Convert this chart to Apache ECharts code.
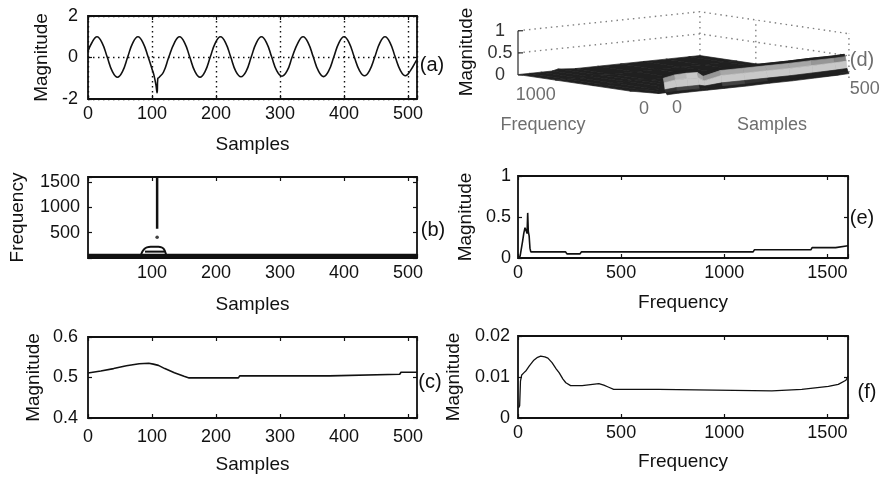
<!DOCTYPE html>
<html>
<head>
<meta charset="utf-8">
<title>Disturbance analysis</title>
<script src="https://cdn.jsdelivr.net/npm/echarts@6/dist/echarts.min.js"></script>
<style>
html, body { margin: 0; padding: 0; background: #ffffff; }
#chart { width: 886px; height: 478px; }
</style>
</head>
<body>
<div id="chart"></div>
<script>
// ---------- (a) disturbed waveform ----------
const aSamples = [0, 6, 14, 22, 30, 38, 46, 54, 62, 70, 78, 86, 94, 100, 103, 106, 108, 109, 111, 118,
  126, 135, 143, 151, 159, 167, 175, 183, 191, 199, 207, 215, 223, 231, 239, 247, 255, 263, 271, 279,
  287, 295, 303, 311, 319, 328, 336, 344, 352, 360, 368, 376, 384, 392, 400, 408, 416, 424, 432, 440,
  448, 456, 464, 472, 480, 488, 496, 504, 512, 514];
const aValues = [0.30, 0.71, 1.00, 0.71, 0.02, -0.67, -0.95, -0.67, 0.02, 0.71, 1.00, 0.71, 0.02, -0.55, -0.85, -1.30, -1.70, -1.02, -0.96, -0.70,
  0.00, 0.71, 1.00, 0.71, 0.02, -0.67, -0.95, -0.67, 0.02, 0.71, 1.00, 0.71, 0.02, -0.67, -0.93, -0.67, 0.02, 0.71, 1.00, 0.71,
  0.02, -0.65, -0.90, -0.65, 0.02, 0.71, 1.00, 0.71, 0.02, -0.65, -0.92, -0.65, 0.02, 0.71, 1.00, 0.71, 0.02, -0.62, -0.88, -0.62,
  0.02, 0.71, 1.00, 0.71, 0.02, -0.62, -0.88, -0.62, -0.20, -0.10];

// ---------- (b) dominant frequency track ----------
const bTrackSamples = [1, 514];
const bTrackFreq = [40, 40];
const bArchSamples = [83, 85, 88, 92, 98, 110, 115, 118, 120, 122];
const bArchFreq = [70, 130, 180, 210, 222, 222, 210, 185, 140, 70];
const bInnerSamples = [89, 120];
const bInnerFreq = [126, 126];
const bSpikeSamples = [108, 108];
const bSpikeFreq = [580, 1600];
const bDotSamples = [108];
const bDotFreq = [410];

// ---------- (c) magnitude at the fundamental ----------
const cSamples = [0, 20, 40, 60, 80, 95, 102, 110, 120, 135, 150, 158, 235, 237, 377, 379, 487, 489, 514];
const cValues = [0.511, 0.516, 0.522, 0.529, 0.534, 0.535, 0.533, 0.530, 0.522, 0.512, 0.503, 0.499, 0.499, 0.504, 0.504, 0.508, 0.508, 0.513, 0.513];

// ---------- (d) time-frequency magnitude surface ----------
const surfSamples = [0, 32, 64, 96, 112, 160, 224, 288, 352, 416, 480, 512];
const surfFreqs = [0, 10, 20, 30, 40, 50, 60, 75, 100, 400, 800, 1200, 1600];
const surfMag = [
  /*    0 Hz */ [0.05, 0.06, 0.06, 0.06, 0.06, 0.06, 0.06, 0.07, 0.07, 0.08, 0.09, 0.10],
  /*   10 Hz */ [0.09, 0.10, 0.10, 0.10, 0.10, 0.10, 0.10, 0.11, 0.11, 0.12, 0.13, 0.14],
  /*   20 Hz */ [0.16, 0.18, 0.18, 0.18, 0.15, 0.18, 0.18, 0.18, 0.18, 0.19, 0.20, 0.21],
  /*   30 Hz */ [0.31, 0.35, 0.35, 0.34, 0.26, 0.34, 0.34, 0.34, 0.34, 0.35, 0.36, 0.37],
  /*   40 Hz */ [0.41, 0.46, 0.47, 0.46, 0.36, 0.45, 0.45, 0.45, 0.45, 0.46, 0.46, 0.47],
  /*   50 Hz */ [0.47, 0.52, 0.53, 0.53, 0.42, 0.50, 0.50, 0.50, 0.50, 0.51, 0.51, 0.52],
  /*   60 Hz */ [0.42, 0.47, 0.48, 0.47, 0.38, 0.45, 0.45, 0.45, 0.45, 0.46, 0.46, 0.47],
  /*   75 Hz */ [0.22, 0.25, 0.25, 0.25, 0.22, 0.24, 0.24, 0.24, 0.24, 0.25, 0.25, 0.25],
  /*  100 Hz */ [0.05, 0.05, 0.05, 0.06, 0.09, 0.05, 0.05, 0.05, 0.05, 0.05, 0.05, 0.05],
  /*  400 Hz */ [0.01, 0.01, 0.01, 0.02, 0.06, 0.01, 0.01, 0.01, 0.01, 0.01, 0.01, 0.01],
  /*  800 Hz */ [0.01, 0.01, 0.01, 0.02, 0.05, 0.01, 0.01, 0.01, 0.01, 0.01, 0.01, 0.01],
  /* 1200 Hz */ [0.01, 0.01, 0.01, 0.01, 0.05, 0.01, 0.01, 0.01, 0.01, 0.01, 0.01, 0.01],
  /* 1600 Hz */ [0.01, 0.01, 0.01, 0.01, 0.04, 0.01, 0.01, 0.01, 0.01, 0.01, 0.01, 0.01]
];
const dMagTicks = [0, 0.5, 1];
const dMagTickLabels = ['0', '0.5', '1'];
const dFreqTicks = [0, 1000];
const dSampleTicks = [0, 500];
const dGridFreqs = [1000, 0];      // vertical guide lines on the back wall
const dGridMags = [0.5, 1];         // horizontal guide lines on both back walls

// ---------- (e) spectrum of the fundamental region ----------
const eFreq = [0, 10, 22, 28, 34, 40, 44, 47, 50, 54, 58, 62, 230, 238, 300, 308, 1140, 1146, 1420, 1426, 1540, 1546, 1600];
const eMag = [0.01, 0.02, 0.20, 0.30, 0.37, 0.33, 0.30, 0.55, 0.32, 0.27, 0.12, 0.075, 0.075, 0.05, 0.05, 0.075, 0.075, 0.10, 0.10, 0.127, 0.127, 0.15, 0.15];

// ---------- (f) mean spectrum ----------
const fFreq = [3, 8, 12, 18, 28, 40, 55, 75, 95, 110, 130, 145, 165, 185, 200, 218, 232, 255, 311, 320,
  392, 416, 440, 464, 682, 690, 1231, 1240, 1376, 1384, 1505, 1553, 1590, 1600];
const fMag = [0.0025, 0.003, 0.009, 0.0105, 0.011, 0.0116, 0.0127, 0.014, 0.0148, 0.0151, 0.0149, 0.0146, 0.0135, 0.012, 0.011, 0.0095, 0.0086, 0.0079, 0.0079, 0.0083,
  0.0084, 0.0080, 0.0075, 0.0070, 0.0070, 0.0066, 0.0066, 0.0070, 0.0070, 0.0074, 0.0077, 0.0082, 0.0092, 0.0102];

// ---------- styling helpers ----------
const FONT = '"Liberation Sans", Arial, Helvetica, sans-serif';
const INK = '#111111';
const DIM = '#6e6e6e';
const pairs = (xs, ys) => xs.map((x, i) => [x, ys[i]]);

const grids = [], xAxes = [], yAxes = [], series = [];

// plain numbers (no thousands separators); values listed in `hide` get no label
function tickFormatter(hide) {
  return function (v) {
    const r = Math.round(v * 1e6) / 1e6;
    return hide.indexOf(r) >= 0 ? '' : String(r);
  };
}

function panel(rect, xs, ys) {
  const gi = grids.length;
  grids.push({ left: rect[0], top: rect[1], width: rect[2], height: rect[3], show: true,
    borderColor: INK, borderWidth: 1.8, backgroundColor: 'transparent' });
  const tick = { show: true, inside: true, length: 4, lineStyle: { color: INK, width: 1.2 } };
  const dotted = { show: true, lineStyle: { color: INK, width: 1.4, type: [1.5, 3.5] } };
  const nameStyle = { color: INK, fontFamily: FONT, fontSize: 19 };
  // every axis sits on its own frame edge (never on the other axis' zero)
  const common = (a) => ({ gridIndex: gi, type: 'value', min: a.min, max: a.max, interval: a.interval,
    axisLine: { show: false, onZero: false } });

  const xi = xAxes.length;
  xAxes.push(Object.assign(common(xs), {
    position: 'bottom', axisTick: tick,
    axisLabel: { color: INK, fontFamily: FONT, fontSize: 18, margin: xs.margin, showMinLabel: true, showMaxLabel: true,
      formatter: tickFormatter(xs.hide) },
    splitLine: xs.grid ? dotted : { show: false },
    name: xs.name, nameLocation: 'middle', nameGap: xs.nameGap, nameTextStyle: nameStyle
  }));
  xAxes.push(Object.assign(common(xs), { position: 'top', axisTick: tick, axisLabel: { show: false }, splitLine: { show: false } }));

  const yi = yAxes.length;
  yAxes.push(Object.assign(common(ys), {
    position: 'left', axisTick: tick,
    axisLabel: { color: INK, fontFamily: FONT, fontSize: 18, margin: ys.margin, showMinLabel: true, showMaxLabel: true,
      formatter: tickFormatter(ys.hide) },
    splitLine: ys.grid ? dotted : { show: false },
    name: ys.name, nameLocation: 'middle', nameGap: ys.nameGap, nameTextStyle: nameStyle
  }));
  yAxes.push(Object.assign(common(ys), { position: 'right', axisTick: tick, axisLabel: { show: false }, splitLine: { show: false } }));
  return { x: xi, y: yi };
}

function line(ax, data, width, smooth) {
  series.push({ type: 'line', xAxisIndex: ax.x, yAxisIndex: ax.y, data: data, showSymbol: false, symbol: 'none',
    smooth: smooth || false, lineStyle: { color: INK, width: width }, z: 3, animation: false });
}

// ---------- panels ----------
const pa = panel([88, 16, 329, 83],
  { min: 0, max: 514, interval: 100, margin: 6, hide: [514], grid: true, name: 'Samples', nameGap: 36 },
  { min: -2, max: 2, interval: 2, margin: 10, hide: [], grid: true, name: 'Magnitude', nameGap: 37 });
line(pa, pairs(aSamples, aValues), 1.6, 0.45);

const pb = panel([88, 177, 329, 81],
  { min: 0, max: 514, interval: 100, margin: 6, hide: [0, 514], name: 'Samples', nameGap: 37 },
  { min: 0, max: 1600, interval: 500, margin: 8, hide: [0, 1600], name: 'Frequency', nameGap: 61 });
line(pb, pairs(bTrackSamples, bTrackFreq), 4.5);
line(pb, pairs(bArchSamples, bArchFreq), 2, 0.4);
line(pb, pairs(bInnerSamples, bInnerFreq), 2);
line(pb, pairs(bSpikeSamples, bSpikeFreq), 2.5);
series.push({ type: 'scatter', xAxisIndex: pb.x, yAxisIndex: pb.y, data: pairs(bDotSamples, bDotFreq),
  symbolSize: 3.5, itemStyle: { color: INK }, z: 3, animation: false });

const pc = panel([88, 337, 329, 81],
  { min: 0, max: 514, interval: 100, margin: 10, hide: [514], name: 'Samples', nameGap: 37 },
  { min: 0.4, max: 0.6, interval: 0.1, margin: 10, hide: [], name: 'Magnitude', nameGap: 45 });
line(pc, pairs(cSamples, cValues), 1.6);

const pe = panel([518, 176, 330, 82],
  { min: 0, max: 1600, interval: 500, margin: 6, hide: [1600], name: 'Frequency', nameGap: 35 },
  { min: 0, max: 1, interval: 0.5, margin: 7, hide: [], name: 'Magnitude', nameGap: 43 });
line(pe, pairs(eFreq, eMag), 1.6);

const pf = panel([518, 336, 330, 82],
  { min: 0, max: 1600, interval: 500, margin: 6, hide: [1600], name: 'Frequency', nameGap: 34 },
  { min: 0, max: 0.02, interval: 0.01, margin: 8, hide: [], name: 'Magnitude', nameGap: 55 });
line(pf, pairs(fFreq, fMag), 1.3);

// ---------- (d) oblique 3-D view on a hidden unit grid ----------
const dGi = grids.length;
grids.push({ left: 518, top: 10, width: 332, height: 90, show: false });
const dXi = xAxes.length, dYi = yAxes.length;
xAxes.push({ gridIndex: dGi, type: 'value', min: 0, max: 1, show: false, axisLine: { onZero: false } });
yAxes.push({ gridIndex: dGi, type: 'value', min: 0, max: 1, show: false, axisLine: { onZero: false } });

const dSampleMax = 512, dFreqMax = 1600, dMagMax = 1;
// unit vectors of the oblique view, expressed in the hidden grid's units
const VIEW_ORIGIN = [0.4488, 0.0333];
const VIEW_SAMPLES = [0.548, 0.211];
const VIEW_FREQ = [-0.4488, 0.2444];
const VIEW_MAG = [0, 0.492];
function project(sample, freq, mag) {
  const s = sample / dSampleMax, f = freq / dFreqMax, z = mag / dMagMax;
  return [VIEW_ORIGIN[0] + s * VIEW_SAMPLES[0] + f * VIEW_FREQ[0] + z * VIEW_MAG[0],
          VIEW_ORIGIN[1] + s * VIEW_SAMPLES[1] + f * VIEW_FREQ[1] + z * VIEW_MAG[1]];
}
function textEl(x, y, text, fill, align) {
  return { type: 'text', x: x, y: y, style: { text: text, fill: fill, font: '18px ' + FONT,
    align: align, verticalAlign: 'middle', textAlign: align, textVerticalAlign: 'middle' } };
}
function seg(p, q, stroke, width, dash) {
  return { type: 'line', shape: { x1: p[0], y1: p[1], x2: q[0], y2: q[1] },
    style: { stroke: stroke, lineWidth: width, lineDash: dash || null } };
}

// back walls: dotted guide lines
series.push({
  type: 'custom', coordinateSystem: 'cartesian2d', xAxisIndex: dXi, yAxisIndex: dYi, clip: false, silent: true, z: 1,
  animation: false, data: [[0.5, 0.5]],
  renderItem: function (params, api) {
    const c = (s, f, z) => api.coord(project(s, f, z));
    const dash = [1.5, 4];
    const kids = [];
    dGridMags.forEach(function (m) {
      kids.push({ type: 'polyline', shape: { points: [c(0, dFreqMax, m), c(dSampleMax, dFreqMax, m), c(dSampleMax, 0, m)] },
        style: { stroke: '#808080', lineWidth: 1.4, lineDash: dash, fill: null } });
    });
    kids.push(seg(c(dSampleMax, dFreqMax, 0), c(dSampleMax, dFreqMax, 1), '#808080', 1.4, dash));
    dGridFreqs.forEach(function (f) {
      kids.push(seg(c(dSampleMax, f, 0), c(dSampleMax, f, 1), '#808080', 1.4, dash));
    });
    return { type: 'group', children: kids };
  }
});

// surface cells, drawn back to front, shaded by how steeply they rise toward the viewer
const surfCells = [];
for (let j = surfFreqs.length - 2; j >= 0; j--) {
  for (let i = 0; i < surfSamples.length - 1; i++) {
    const ctr = project((surfSamples[i] + surfSamples[i + 1]) / 2, (surfFreqs[j] + surfFreqs[j + 1]) / 2, 0);
    surfCells.push([ctr[0], ctr[1], i, j]);
  }
}
series.push({
  type: 'custom', coordinateSystem: 'cartesian2d', xAxisIndex: dXi, yAxisIndex: dYi, clip: false, silent: true, z: 2,
  animation: false, data: surfCells,
  renderItem: function (params, api) {
    const i = api.value(2), j = api.value(3);
    const pts = [[i, j], [i + 1, j], [i + 1, j + 1], [i, j + 1]].map(function (k) {
      return api.coord(project(surfSamples[k[0]], surfFreqs[k[1]], surfMag[k[1]][k[0]]));
    });
    const rise = ((surfMag[j + 1][i] - surfMag[j][i]) + (surfMag[j + 1][i + 1] - surfMag[j][i + 1])) / 2
      / (surfFreqs[j + 1] - surfFreqs[j]);
    const t = Math.max(0, Math.min(1, (rise - 0.007) / 0.005));
    const g = Math.round(32 + t * (200 - 32));
    const col = 'rgb(' + g + ',' + g + ',' + g + ')';
    return { type: 'polygon', shape: { points: pts }, style: { fill: col, stroke: col, lineWidth: 0.7 } };
  }
});

// axes of the 3-D view
series.push({
  type: 'custom', coordinateSystem: 'cartesian2d', xAxisIndex: dXi, yAxisIndex: dYi, clip: false, silent: true, z: 4,
  animation: false, data: [[0.5, 0.5]],
  renderItem: function (params, api) {
    const c = (s, f, z) => api.coord(project(s, f, z));
    const kids = [];
    kids.push(seg(c(0, dFreqMax, 0), c(0, dFreqMax, 1), '#3a3a3a', 1.3));
    dMagTicks.forEach(function (m, k) {
      const p = c(0, dFreqMax, m);
      kids.push(seg(p, [p[0] + 5, p[1]], '#3a3a3a', 1.3));
      kids.push(textEl(p[0] - 18, p[1], dMagTickLabels[k], '#333333', 'center'));
    });
    dFreqTicks.forEach(function (f) {
      const p = c(0, f, 0);
      kids.push(textEl(p[0] - 18, p[1] + 12, String(f), DIM, 'right'));
    });
    dSampleTicks.forEach(function (s) {
      const p = c(s, 0, 0);
      kids.push(textEl(p[0] + 5, p[1] + 11, String(s), DIM, 'left'));
    });
    return { type: 'group', children: kids };
  }
});

// ---------- panel tags and 3-D axis titles ----------
function tag(x, y, text, fill, size, rot) {
  return { type: 'text', x: x, y: y, rotation: rot || 0, silent: true, z: 10,
    style: { text: text, fill: fill, font: size + 'px ' + FONT, align: 'center', verticalAlign: 'middle',
      textAlign: 'center', textVerticalAlign: 'middle' } };
}
const graphics = [
  tag(432, 65, '(a)', INK, 20),
  tag(433, 230, '(b)', INK, 20),
  tag(430, 382, '(c)', INK, 20),
  tag(862, 60, '(d)', DIM, 20),
  tag(862, 218, '(e)', INK, 20),
  tag(867, 392, '(f)', INK, 20),
  tag(467, 52, 'Magnitude', INK, 19, Math.PI / 2),
  tag(543, 125, 'Frequency', DIM, 18),
  tag(772, 125, 'Samples', DIM, 18)
];

const chart = echarts.init(document.getElementById('chart'), null, { renderer: 'canvas' });
chart.setOption({
  animation: false,
  backgroundColor: '#ffffff',
  textStyle: { fontFamily: FONT },
  grid: grids,
  xAxis: xAxes,
  yAxis: yAxes,
  series: series,
  graphic: graphics
});
</script>
</body>
</html>
